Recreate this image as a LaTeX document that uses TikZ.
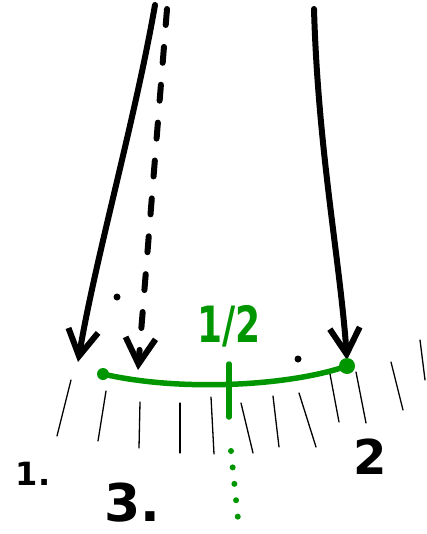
\documentclass[tikz,border=0pt]{standalone}
\usepackage{fontspec}
\setmainfont{DejaVu Sans}
\usetikzlibrary{arrows.meta}
\definecolor{penGreen}{RGB}{0,150,0}

\begin{document}
\begin{tikzpicture}[
  x={(1pt,0)}, y={(0,-1pt)},
  ray/.style    = {line width=6pt, line cap=round,
                   -{Straight Barb[length=26pt,width=30pt,line width=6pt]}},
  dashray/.style= {ray, dash pattern=on 16pt off 22pt},
  hatch/.style  = {line width=1.3pt, line cap=round},
  arc/.style    = {line width=5.5pt, draw=penGreen, line cap=round},
  tick/.style   = {arc},
  dots/.style   = {line width=6pt, draw=penGreen, line cap=round,
                   dash pattern=on 0pt off 16.5pt},
  end/.style    = {circle, fill=penGreen, inner sep=0pt},
  speck/.style  = {circle, fill=black, inner sep=0pt, minimum size=7pt},
  lbl/.style    = {font=\bfseries, inner sep=0pt},
]
\useasboundingbox (0,0) rectangle (426,534);

% ---------------- rays ---------------------------------------------------
\coordinate (aTop) at (155,5);
\coordinate (aTip) at (78,362);
\coordinate (bTop) at (167,9);
\coordinate (bTip) at (138,370);
\coordinate (cTop) at (314,9);
\coordinate (cTip) at (347,360);

\draw[ray] (aTop) .. controls (135,120) and (95,260) .. (aTip);
\draw[dashray] (bTop) -- (bTip);
\draw[ray] (cTop) .. controls (318,150) and (340,260) .. (cTip);

\node[speck] (s1) at (117,297) {};
\node[speck] (s2) at (298,359) {};

% ---------------- hatching ----------------------------------------------
\foreach \xa/\ya/\xb/\yb in {71/380/57/436, 106/391/98/441, 140/402/139/448,
    180/403/180/453, 211/397/214/454, 241/403/253/453, 273/396/279/447,
    299/393/316/447, 330/374/339/422, 356/372/366/423, 391/362/403/410,
    420/340/425/380}
  \draw[hatch] (\xa,\ya) -- (\xb,\yb);

% ---------------- green arc ---------------------------------------------
\node[end, minimum size=12pt] (p1) at (103,374) {};
\node[end, minimum size=16pt] (p2) at (347,366) {};
\draw[arc] (p1.center) .. controls (180,392) and (290,386) .. (p2.center);

\coordinate (mTop) at (229,364);
\coordinate (mBot) at (229,417);
\draw[tick] (mTop) -- (mBot);
\coordinate (dTop) at (231,451);
\coordinate (dBot) at (238,519);
\draw[dots] (dTop) -- (dBot);

\node[lbl, text=penGreen, font=\fontsize{50}{50}\selectfont\bfseries,
      xscale=0.72] (half) at (229,326) {1/2};

% ---------------- numbers -----------------------------------------------
\node[lbl, font=\fontsize{32}{32}\selectfont\bfseries] (n1) at (33,474) {1.};
\node[lbl, font=\fontsize{52}{52}\selectfont\bfseries] (n3) at (132,503) {3.};
\node[lbl, font=\fontsize{48}{48}\selectfont\bfseries] (n2) at (370,457) {2};

\end{tikzpicture}
\end{document}
